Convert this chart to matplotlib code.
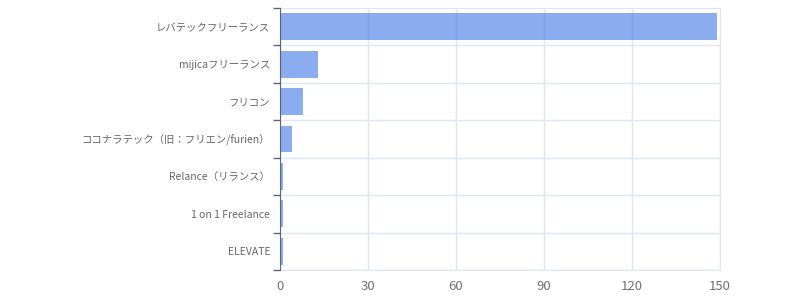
import matplotlib.pyplot as plt
import numpy as np

plt.rcParams['font.family'] = ['Noto Sans CJK JP', 'DejaVu Sans']

names = ['レバテックフリーランス', 'mijicaフリーランス', 'フリコン',
         'ココナラテック（旧：フリエン/furien）', 'Relance（リランス）',
         '1 on 1 Freelance', 'ELEVATE']
counts = [149, 13, 8, 4, 1, 1, 1]
xticks = [0, 30, 60, 90, 120, 150]

fig = plt.figure(figsize=(8, 3), dpi=100)
ax = fig.add_axes([0.35, 0.1, 0.55, 0.8733])

y = np.arange(len(names))
# semi-transparent bars, grid shows through
ax.barh(y, counts, height=0.72, color='#3f75e6', alpha=0.6, zorder=3)
ax.set_ylim(len(names) - 0.5, -0.5)
ax.set_xlim(0, 150)

ax.set_yticks(y)
ax.set_yticklabels(names, fontsize=7.5, color='#666666')
ax.tick_params(axis='y', which='major', length=0, pad=7)
ax.set_yticks(np.arange(len(names) + 1) - 0.5, minor=True)
ax.tick_params(axis='y', which='minor', length=5, width=1, color='#5a6478')

ax.set_xticks(xticks)
ax.set_xticklabels([str(v) for v in xticks], fontsize=9.5, color='#707070')
ax.tick_params(axis='x', length=0, pad=7)

grid_c = '#dfe5f2'
ax.grid(axis='x', color=grid_c, lw=1, zorder=0)
ax.grid(axis='y', which='minor', color=grid_c, lw=1, zorder=0)
for s in ['top', 'right', 'bottom']:
    ax.spines[s].set_color(grid_c)
ax.spines['left'].set_color('#5a6478')
ax.spines['left'].set_zorder(4)

plt.savefig('out.png', dpi=100)
